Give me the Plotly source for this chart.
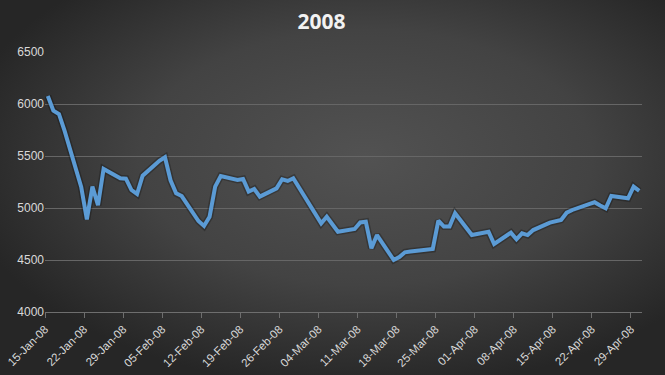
import base64
from datetime import datetime, timedelta
import plotly.graph_objects as go

# ---- data ----
dates = [
    "2008-01-15", "2008-01-16", "2008-01-17", "2008-01-18", "2008-01-21", "2008-01-22",
    "2008-01-23", "2008-01-24", "2008-01-25", "2008-01-28", "2008-01-29", "2008-01-30",
    "2008-01-31", "2008-02-01", "2008-02-04", "2008-02-05", "2008-02-06", "2008-02-07",
    "2008-02-08", "2008-02-11", "2008-02-12", "2008-02-13", "2008-02-14", "2008-02-15",
    "2008-02-18", "2008-02-19", "2008-02-20", "2008-02-21", "2008-02-22", "2008-02-25",
    "2008-02-26", "2008-02-27", "2008-02-28", "2008-02-29", "2008-03-03", "2008-03-04",
    "2008-03-05", "2008-03-06", "2008-03-07", "2008-03-10", "2008-03-11", "2008-03-12",
    "2008-03-13", "2008-03-14", "2008-03-17", "2008-03-18", "2008-03-19", "2008-03-20",
    "2008-03-24", "2008-03-25", "2008-03-26", "2008-03-27", "2008-03-28", "2008-03-31",
    "2008-04-01", "2008-04-02", "2008-04-03", "2008-04-04", "2008-04-07", "2008-04-08",
    "2008-04-09", "2008-04-10", "2008-04-11", "2008-04-14", "2008-04-15", "2008-04-16",
    "2008-04-17", "2008-04-18", "2008-04-21", "2008-04-22", "2008-04-23", "2008-04-24",
    "2008-04-25", "2008-04-28", "2008-04-29", "2008-04-30",
]
values = [
    6077, 5936, 5904, 5744, 5199, 4891,
    5205, 5026, 5375, 5286, 5282, 5173,
    5135, 5311, 5454, 5488, 5266, 5141,
    5115, 4875, 4827, 4916, 5205, 5308,
    5269, 5279, 5157, 5183, 5109, 5189,
    5276, 5260, 5286, 5199, 4952, 4853,
    4916, 4844, 4772, 4798, 4861, 4868,
    4613, 4740, 4500, 4529, 4574, 4581,
    4606, 4878, 4821, 4821, 4949, 4740,
    4750, 4760, 4772, 4654, 4763, 4699,
    4757, 4740, 4788, 4859, 4875, 4885,
    4955, 4981, 5038, 5055, 5024, 4997,
    5115, 5093, 5205, 5164,
]
title_text = "2008"
y_ticks = [4000, 4500, 5000, 5500, 6000, 6500]

# ---- layout constants ----
W, H = 665, 375
ML, MR, MT, MB = 45, 23, 52, 63

# points sit in the middle of each day (date axis, between tick marks)
x_vals = [datetime.strptime(d, "%Y-%m-%d") + timedelta(hours=12) for d in dates]

# radial gradient background as an SVG data URI
svg = f"""<svg xmlns='http://www.w3.org/2000/svg' width='{W}' height='{H}' viewBox='0 0 {W} {H}' preserveAspectRatio='none'>
<defs><radialGradient id='g' cx='0.55' cy='0.42' r='0.62' gradientUnits='objectBoundingBox'>
<stop offset='0' stop-color='#525252'/><stop offset='0.55' stop-color='#434343'/><stop offset='1' stop-color='#262626'/>
</radialGradient></defs>
<rect width='{W}' height='{H}' fill='url(#g)'/></svg>"""
bg_uri = "data:image/svg+xml;base64," + base64.b64encode(svg.encode()).decode()

pw = W - ML - MR
ph = H - MT - MB

fig = go.Figure()
# soft shadow
fig.add_trace(go.Scatter(
    x=x_vals, y=values, mode="lines",
    line=dict(color="rgba(0,0,0,0.25)", width=7),
    hoverinfo="skip", showlegend=False,
))
fig.add_trace(go.Scatter(
    x=x_vals, y=values, mode="lines",
    line=dict(color="#5B9BD5", width=4),
    showlegend=False,
))

fig.update_layout(
    width=W, height=H,
    margin=dict(l=ML, r=MR, t=MT, b=MB, autoexpand=False),
    paper_bgcolor="#3a3a3a",
    plot_bgcolor="rgba(0,0,0,0)",
    font=dict(family="Liberation Sans, Arial, sans-serif", color="#d9d9d9", size=12),
    title=dict(text=title_text, xref="container", x=321.5 / W, xanchor="center",
               y=1 - 21.5 / H, yanchor="middle",
               font=dict(family="Open Sans, Liberation Sans, sans-serif", size=21,
                         color="#f2f2f2", weight="bold")),
    images=[dict(
        source=bg_uri, xref="paper", yref="paper",
        x=-ML / pw, y=1 + MT / ph, sizex=W / pw, sizey=H / ph,
        xanchor="left", yanchor="top", sizing="stretch", layer="below",
    )],
    xaxis=dict(
        type="date",
        range=[datetime(2008, 1, 15), datetime(2008, 5, 1)],
        tick0="2008-01-15", dtick=7 * 86400000,
        tickformat="%d-%b-%y", tickangle=-45,
        showgrid=False, zeroline=False,
        showline=True, linecolor="#6e6e6e", linewidth=1,
        ticks="outside", ticklen=5, tickcolor="#6e6e6e",
        tickfont=dict(size=11.5, color="#d9d9d9"),
        automargin=False,
    ),
    yaxis=dict(
        range=[4000, 6500], tickvals=y_ticks,
        showgrid=True, gridcolor="#666666", gridwidth=1,
        zeroline=False, showline=False, ticks="",
        tickfont=dict(size=12, color="#d9d9d9"),
        automargin=False,
    ),
)

fig.write_html(
    "out.html",
    config={"displayModeBar": False},
    post_script="document.body.style.margin='0';document.body.style.overflow='hidden';",
)
